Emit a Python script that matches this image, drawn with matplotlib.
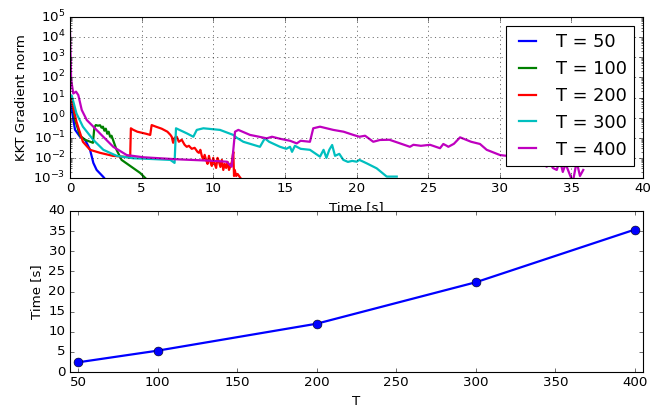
import matplotlib
matplotlib.use('Agg')
import matplotlib.pyplot as plt
import numpy as np

plt.style.use('classic')

# convergence traces: time [s] and log10 of KKT gradient norm
t50 = [0, 0.1, 0.35, 0.7, 1.05, 1.4, 1.63, 1.86, 2.33, 2.5]
g50 = [1.0, 0.5, -0.6, -0.95, -1.1, -1.6, -2.25, -2.6, -2.95, -3.1]

t100 = [0, 0.12, 0.35, 0.7, 1.05, 1.6, 1.7, 1.8, 1.95, 2.1, 2.2, 2.3, 2.4, 2.5,
        2.6, 2.7, 2.8, 2.9, 3.05, 3.25, 3.6, 4.0, 4.4, 4.9, 5.25, 5.4]
g100 = [1.1, 1.0, -0.1, -0.9, -1.1, -1.25, -0.5, -0.37, -0.4, -0.38, -0.5, -0.45,
        -0.65, -0.55, -0.8, -0.7, -0.95, -0.9, -1.2, -1.6, -2.1, -2.3, -2.5, -2.75, -3.0, -3.1]

t200 = [0, 0.12, 0.45, 0.9, 1.4, 2.1, 3.0, 4.2, 4.25, 4.4, 4.7, 5.0, 5.3, 5.6, 5.7,
        6.0, 6.4, 6.8, 7.0, 7.1, 7.2, 7.3, 7.45, 7.6, 7.8, 8.0, 8.15, 8.3, 8.5, 8.7,
        8.9, 9.0, 9.1, 9.2, 9.3, 9.4, 9.5, 9.6, 9.7, 9.8, 9.9, 10.0, 10.1, 10.2, 10.3,
        10.4, 10.5, 10.6, 10.7, 10.8, 10.9, 11.0, 11.1, 11.2, 11.3, 11.4, 11.45, 11.5,
        11.6, 11.7, 11.9]
g200 = [1.0, 0.88, -0.2, -1.2, -1.6, -1.75, -1.9, -1.97, -0.53, -0.6, -0.7, -0.75,
        -0.8, -0.86, -0.37, -0.45, -0.55, -0.7, -0.85, -0.95, -1.25, -1.0, -0.95,
        -1.2, -1.1, -1.35, -1.45, -1.4, -1.55, -1.5, -1.7, -1.75, -1.6, -1.9, -2.1,
        -1.85, -2.1, -2.3, -1.9, -2.2, -2.4, -2.0, -2.3, -2.5, -2.0, -2.2, -2.45,
        -2.1, -2.6, -2.3, -2.5, -2.2, -2.6, -2.4, -2.2, -1.7, -2.9, -2.6, -2.9, -2.8, -3.0]

t300 = [0, 0.12, 0.45, 0.9, 1.63, 2.33, 3.26, 4.42, 5.5, 7.0, 7.3, 7.4, 8.15, 8.61,
        8.85, 9.31, 10.47, 11.4, 11.64, 12.1, 13.26, 13.6, 13.9, 14.66, 15.1, 15.36,
        15.5, 15.7, 16.1, 16.75, 17.45, 17.7, 17.9, 18.1, 18.3, 18.5, 18.8, 19.08,
        19.4, 19.7, 20.01, 20.2, 20.71, 21.41, 22.11, 22.81]
g300 = [1.12, 1.1, 0.21, -0.45, -1.11, -1.6, -1.9, -2.02, -2.05, -2.1, -2.25, -0.53,
        -0.78, -0.95, -0.61, -0.53, -0.61, -0.86, -1.0, -1.2, -1.45, -1.03, -1.2,
        -1.45, -1.55, -1.45, -1.7, -1.4, -1.55, -1.6, -1.94, -1.6, -2.0, -1.6, -1.36,
        -1.9, -1.8, -2.1, -2.2, -2.15, -2.19, -2.1, -2.27, -2.52, -2.93, -2.93]

t400 = [0, 0.08, 0.23, 0.42, 0.58, 0.82, 1.17, 1.63, 2.32, 3.02, 3.96, 5.12, 7.45,
        9.77, 10.94, 11.29, 11.52, 11.75, 12.57, 13.2, 13.73, 14.1, 14.66, 15.36,
        15.83, 16.1, 16.75, 16.98, 17.45, 18.38, 19.1, 19.78, 20.2, 20.6, 21.17,
        21.64, 22.3, 23.04, 23.73, 23.97, 24.5, 25.13, 25.83, 26.06, 26.3, 26.41,
        26.8, 27.23, 28.0, 28.62, 29.09, 30.02, 30.5, 30.9, 31.41, 31.8, 32.2, 32.6,
        33.28, 33.5, 33.7, 33.98, 34.2, 34.4, 34.6, 34.9, 35.1, 35.37, 35.6, 35.83]
g400 = [4.35, 1.87, 1.2, 1.29, 1.12, 0.38, -0.12, -0.45, -0.95, -1.45, -1.86,
        -1.97, -2.07, -2.14, -2.19, -2.44, -0.7, -0.61, -0.86, -0.95, -1.03, -0.95,
        -1.05, -1.15, -1.28, -1.15, -1.2, -0.53, -0.45, -0.61, -0.7, -0.86, -0.95,
        -0.9, -1.2, -1.11, -1.1, -1.28, -1.45, -1.35, -1.4, -1.35, -1.52, -1.31,
        -1.4, -1.45, -1.3, -0.98, -1.2, -1.31, -1.6, -1.86, -1.9, -2.0, -2.19, -2.0,
        -2.3, -2.1, -2.44, -2.2, -2.5, -2.6, -2.1, -2.7, -2.3, -2.85, -3.2, -2.19,
        -2.9, -2.6]

horizons = [50, 100, 200, 300, 400]
solve_time = [2.4, 5.3, 12.0, 22.3, 35.4]

traces = [(t50, g50), (t100, g100), (t200, g200), (t300, g300), (t400, g400)]
colors = ['b', 'g', 'r', 'c', 'm']

fig = plt.figure(figsize=(667 / 80, 409 / 80), dpi=80)
ax1 = fig.add_axes([70 / 667, 1 - 178 / 409, 573 / 667, 161 / 409])
ax2 = fig.add_axes([70 / 667, 1 - 372 / 409, 573 / 667, 161 / 409])

for (t, g), c, T in zip(traces, colors, horizons):
    ax1.semilogy(t, 10.0 ** np.array(g), color=c, linewidth=2, label='T = %d' % T)
ax1.set_xlim(0, 40)
ax1.set_ylim(1e-3, 1e5)
ax1.grid(True)
ax1.set_xlabel('Time [s]')
ax1.set_ylabel('KKT Gradient norm')
ax1.legend(loc='upper right', fontsize=16, handlelength=1.6)

ax2.plot(horizons, solve_time, 'bo-', linewidth=2, markersize=8)
ax2.set_xlim(45, 405)
ax2.set_ylim(0, 40)
ax2.set_xticks(range(50, 401, 50))
ax2.set_xlabel('T')
ax2.set_ylabel('Time [s]')

fig.savefig('out.png', dpi=80)
